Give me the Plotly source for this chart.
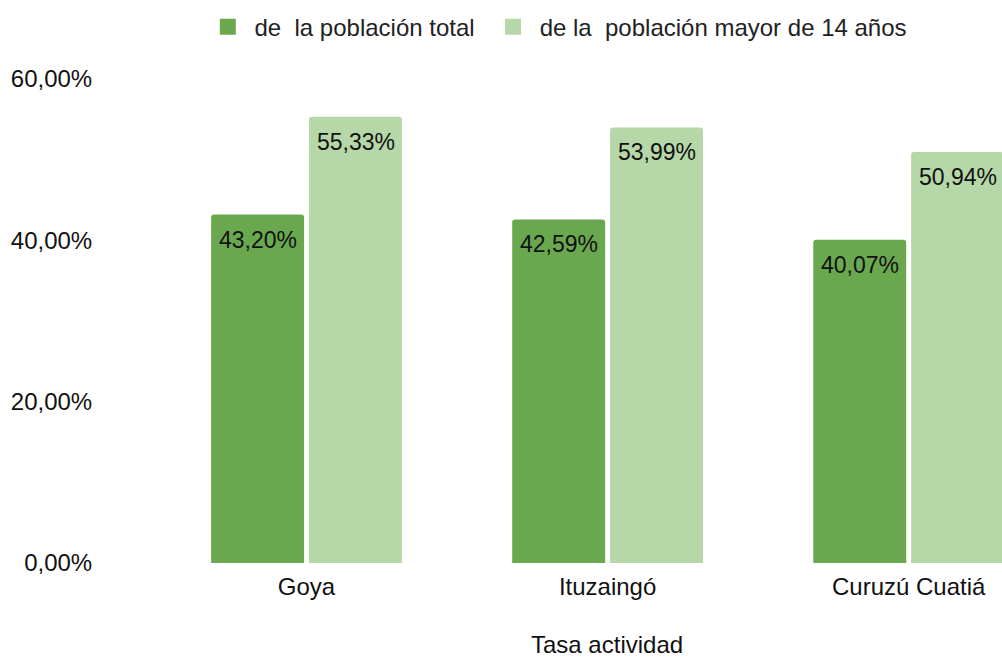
import plotly.graph_objects as go

categories = ["Goya", "Ituzaingó", "Curuzú Cuatiá"]
total_pop = [43.20, 42.59, 40.07]
pop_over14 = [55.33, 53.99, 50.94]
series_names = ["de\u00a0 la población total", "de la\u00a0 población mayor de 14 años"]
colors = ["#6aa84f", "#b6d7a8"]
tick_vals = [0, 20, 40, 60]
tick_text = ["0,00%", "20,00%", "40,00%", "60,00%"]
x_title = "Tasa actividad"

FONT = "Liberation Sans, Arial, sans-serif"
TXT = "#111111"

fig = go.Figure()
for i, (name, vals, col) in enumerate(zip(series_names, [total_pop, pop_over14], colors)):
    fig.add_trace(go.Bar(
        x=categories, y=vals, name=name, showlegend=False,
        marker=dict(color=col, cornerradius=3, line=dict(width=0)),
    ))
    legend_label = "\u00a0" + name + ("\u00a0\u00a0" if i == 0 else "")
    fig.add_trace(go.Scatter(
        x=[None], y=[None], mode="markers", name=legend_label, showlegend=True,
        marker=dict(symbol="square", size=20, color=col),
    ))

# value labels placed inside top of each bar
for offset, vals in zip([-49, 49], [total_pop, pop_over14]):
    for c, v in zip(categories, vals):
        fig.add_annotation(
            x=c, y=v, xref="x", yref="y", text=f"{v:.2f}%".replace(".", ","),
            showarrow=False, xshift=offset, yshift=-25, yanchor="middle",
            font=dict(family=FONT, size=23, color=TXT),
        )

# x-axis title (centred on the full category band, which runs past the right edge)
fig.add_annotation(
    x=0.533, y=-0.169, xref="paper", yref="paper", text=x_title,
    showarrow=False, xanchor="center", yanchor="middle",
    font=dict(family=FONT, size=24, color=TXT),
)

fig.update_layout(
    width=1002, height=658,
    margin=dict(l=156, r=0, t=79, b=95, autoexpand=False),
    paper_bgcolor="white", plot_bgcolor="white",
    font=dict(family=FONT, size=24, color=TXT),
    barmode="group", bargap=0.35, bargroupgap=0.05,
    showlegend=True,
    legend=dict(orientation="h", x=0.4773, xanchor="center", y=1.107, yanchor="middle",
                font=dict(family=FONT, size=24, color="#222222"), itemwidth=30,
                tracegroupgap=0),
)
fig.update_xaxes(
    range=[-0.5, 2.31], showgrid=False, showline=False, automargin=False,
    ticks="outside", ticklen=2, tickcolor="rgba(0,0,0,0)",
    tickfont=dict(size=24, color=TXT),
)
fig.update_yaxes(
    range=[0, 60], tickvals=tick_vals, ticktext=tick_text, automargin=False,
    showgrid=False, zeroline=False, showline=False,
    ticks="outside", ticklen=58, tickcolor="rgba(0,0,0,0)",
    tickfont=dict(size=24, color=TXT),
)

fig.write_html(
    "out.html",
    config={"displayModeBar": False},
    post_script="document.body.style.margin='0';document.body.style.overflow='hidden';",
)
